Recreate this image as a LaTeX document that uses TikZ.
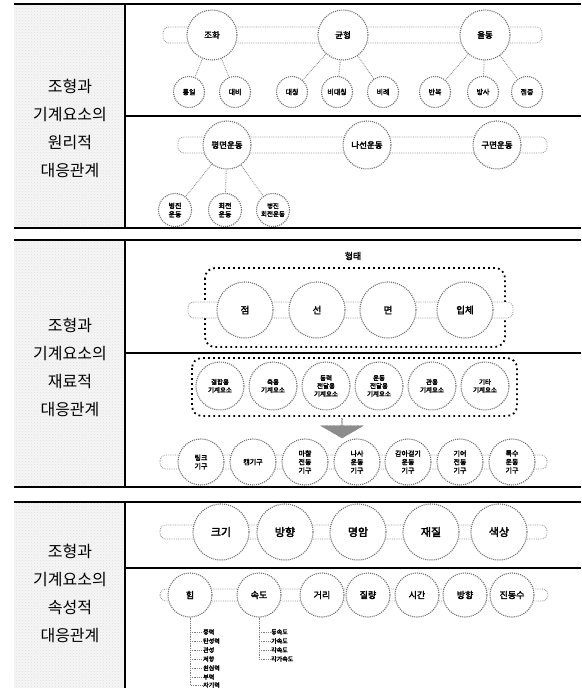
\documentclass[tikz,border=0pt]{standalone}
\usepackage{fontspec}
\newfontfamily\kr{Noto Sans CJK KR}
\newfontfamily\krb[FakeBold=2.6]{Noto Sans CJK KR}
\usetikzlibrary{patterns,shapes.arrows}

\tikzset{
  sidepanel/.style={fill=black!4, postaction={pattern=crosshatch dots, pattern color=black!12}},
  hrule/.style={line width=1.4pt},
  divider/.style={line width=1.1pt},
  sidelabel/.style={font=\kr\fontsize{16}{28}\selectfont, align=center, inner sep=0pt},
  band/.style={draw=black!42, densely dotted, line width=.8pt, rounded corners=6pt, fill=white},
  ring/.style={circle, draw=black!55, densely dotted, line width=1.1pt, fill=white, inner sep=0pt, align=center},
  hub/.style={ring, minimum size=50pt, font=\krb\fontsize{8.5}{10}\selectfont},
  leaf/.style={ring, minimum size=31pt, font=\krb\fontsize{7}{8.5}\selectfont},
  formring/.style={ring, minimum size=56pt, font=\krb\fontsize{9.5}{11}\selectfont},
  partring/.style={ring, minimum size=48pt, font=\krb\fontsize{6.5}{8}\selectfont},
  mechring/.style={ring, minimum size=46pt, font=\krb\fontsize{7}{8.5}\selectfont},
  attrring/.style={ring, minimum size=56pt, font=\krb\fontsize{11}{13}\selectfont},
  physring/.style={ring, minimum size=44pt, font=\krb\fontsize{9}{11}\selectfont},
  twig/.style={draw=black!50, densely dotted, line width=.8pt},
  groupbox/.style={draw, line width=1.8pt, dash pattern=on 1.8pt off 3.2pt, rounded corners=10pt},
  listitem/.style={anchor=west, inner sep=1pt, font=\krb\fontsize{6}{7}\selectfont},
  downarrow/.style={single arrow, shape border rotate=270, fill=black!45, draw=black!65,
    densely dotted, minimum height=20pt, minimum width=43pt, single arrow head extend=13pt,
    single arrow tip angle=120, inner sep=0pt}
}

\begin{document}
\begin{tikzpicture}[x=1pt,y=-1pt]
  \useasboundingbox (0,0) rectangle (581,688);

  % table
  \fill[sidepanel] (14,4) rectangle (125,228);
  \fill[sidepanel] (14,240) rectangle (125,487);
  \fill[sidepanel] (14,502) rectangle (125,688);
  \draw[hrule] (14,4) -- (581,4);
  \draw[hrule] (14,228) -- (581,228);
  \draw[hrule] (14,240) -- (581,240);
  \draw[hrule] (14,487) -- (581,487);
  \draw[hrule] (14,502) -- (581,502);
  \draw[hrule] (125,4) -- (125,228);
  \draw[hrule] (125,240) -- (125,487);
  \draw[hrule] (125,502) -- (125,688);
  \draw[divider] (125,116) -- (581,116);
  \draw[divider] (125,353) -- (581,353);
  \draw[divider] (125,568) -- (581,568);

  \node[sidelabel] (principle) at (70,128) {조형과\\기계요소의\\원리적\\대응관계};
  \node[sidelabel] (material) at (70,367) {조형과\\기계요소의\\재료적\\대응관계};
  \node[sidelabel] (attribute) at (70,593) {조형과\\기계요소의\\속성적\\대응관계};

  % principles
  \draw[band] (163,27) rectangle (542,43);
  \node[hub] (harmony) at (212,35) {조화};
  \node[hub] (balance) at (343,35) {균형};
  \node[hub] (rhythm) at (485,35) {율동};
  \node[leaf] (unity) at (189,92) {통일};
  \node[leaf] (contrast) at (235,92) {대비};
  \node[leaf] (sym) at (292,92) {대칭};
  \node[leaf] (asym) at (337,92) {비대칭};
  \node[leaf] (ratio) at (383,92) {비례};
  \node[leaf] (repeat) at (435,92) {반복};
  \node[leaf] (radial) at (483,92) {방사};
  \node[leaf] (grad) at (527,92) {점증};
  \draw[twig] (harmony) -- (unity);
  \draw[twig] (harmony) -- (contrast);
  \draw[twig] (balance) -- (sym);
  \draw[twig] (balance) -- (asym);
  \draw[twig] (balance) -- (ratio);
  \draw[twig] (rhythm) -- (repeat);
  \draw[twig] (rhythm) -- (radial);
  \draw[twig] (rhythm) -- (grad);

  \draw[band] (178,137) rectangle (547,153);
  \node[hub, minimum size=48pt] (plane) at (227,145) {평면운동};
  \node[hub, minimum size=48pt] (helix) at (367,145) {나선운동};
  \node[hub, minimum size=48pt] (sphere) at (497,145) {구면운동};
  \node[leaf, minimum size=33pt] (transl) at (175,210) {병진\\운동};
  \node[leaf, minimum size=33pt] (rotat) at (225,210) {회전\\운동};
  \node[leaf, minimum size=33pt, font=\krb\fontsize{6.5}{8}\selectfont] (mixed) at (273,210) {병진\\회전운동};
  \draw[twig] (plane) -- (transl);
  \draw[twig] (plane) -- (rotat);
  \draw[twig] (plane) -- (mixed);

  % material
  \node[font=\krb\fontsize{9}{11}\selectfont] (form) at (353,256) {형태};
  \draw[groupbox] (205,268) rectangle (505,347);
  \draw[band] (188,302) rectangle (513,318);
  \node[formring] (point) at (245,310) {점};
  \node[formring] (line) at (317,310) {선};
  \node[formring] (face) at (388,310) {면};
  \node[formring] (solid) at (465,310) {입체};

  \draw[groupbox] (192,358) rectangle (517,416);
  \node[partring] (p1) at (220,386) {결합용\\기계요소};
  \node[partring] (p2) at (273,386) {축용\\기계요소};
  \node[partring] (p3) at (326,386) {동력\\전달용\\기계요소};
  \node[partring] (p4) at (379,386) {운동\\전달용\\기계요소};
  \node[partring] (p5) at (432,386) {관용\\기계요소};
  \node[partring] (p6) at (485,386) {기타\\기계요소};

  \node[downarrow] (arr) at (342,428) {};

  \draw[band] (160,455) rectangle (547,469);
  \node[mechring] (m1) at (201,462) {링크\\기구};
  \node[mechring] (m2) at (253,462) {캠기구};
  \node[mechring] (m3) at (305,462) {마찰\\전동\\기구};
  \node[mechring] (m4) at (357,462) {나사\\운동\\기구};
  \node[mechring] (m5) at (408,462) {감아걸기\\운동\\기구};
  \node[mechring] (m6) at (460,462) {기어\\전동\\기구};
  \node[mechring] (m7) at (512,462) {특수\\운동\\기구};

  % attributes
  \draw[band] (160,525) rectangle (547,539);
  \node[attrring] (size) at (221,532) {크기};
  \node[attrring] (dir) at (285,532) {방향};
  \node[attrring] (shade) at (358,532) {명암};
  \node[attrring] (texture) at (431,532) {재질};
  \node[attrring] (colour) at (499,532) {색상};

  \draw[band] (160,589) rectangle (548,601);
  \node[physring] (force) at (190,595) {힘};
  \node[physring] (speed) at (259,595) {속도};
  \node[physring] (dist) at (322,595) {거리};
  \node[physring] (mass) at (368,595) {질량};
  \node[physring] (time) at (417,595) {시간};
  \node[physring] (heading) at (465,595) {방향};
  \node[physring] (freq) at (512,595) {진동수};

  \node[listitem] (f1) at (202,632) {중력};
  \node[listitem] (f2) at (202,641) {탄성력};
  \node[listitem] (f3) at (202,650) {관성};
  \node[listitem] (f4) at (202,659) {저항};
  \node[listitem] (f5) at (202,668) {원심력};
  \node[listitem] (f6) at (202,677) {부력};
  \node[listitem] (f7) at (202,685) {자기력};
  \foreach \k in {1,...,7} \draw[twig] (force.south) |- (f\k.west);

  \node[listitem] (s1) at (270,632) {등속도};
  \node[listitem] (s2) at (270,641) {가속도};
  \node[listitem] (s3) at (270,650) {각속도};
  \node[listitem] (s4) at (270,659) {각가속도};
  \foreach \k in {1,...,4} \draw[twig] (speed.south) |- (s\k.west);
\end{tikzpicture}
\end{document}
